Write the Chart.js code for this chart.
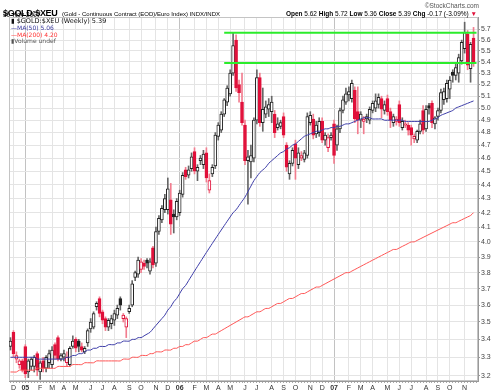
<!DOCTYPE html>
<html>
<head>
<meta charset="utf-8">
<title>$GOLD:$XEU weekly</title>
<script src="https://cdn.jsdelivr.net/npm/chart.js@4.4.0/dist/chart.umd.min.js"></script>
<style>
  body { margin: 0; background: #fff; }
  #wrap { position: relative; width: 499px; height: 392px; overflow: hidden; font-family: 'Liberation Sans', Arial, sans-serif; }
  #wrap canvas { position: absolute; left: 0; top: 0; }
  .t { position: absolute; white-space: nowrap; line-height: 1.1; color: #000; }
  .leg { font-family: 'DejaVu Sans', sans-serif; }
</style>
</head>
<body>
<div id="wrap">
  <canvas id="chart" width="499" height="392"></canvas>
  <div class="t" style="left:3px;top:2px;"><b style="font-size:9px;letter-spacing:-0.3px">$GOLD:$XEU</b> <span style="font-size:6px">(Gold - Continuous Contract (EOD)/Euro Index) INDX/INDX</span></div>
  <div class="t" style="left:3px;top:10.5px;font-size:6.5px">30-Nov-2007</div>
  <div class="t" style="right:20px;top:2px;font-size:6.5px;color:#555">&copy;StockCharts.com</div>
  <div class="t" style="right:22px;top:10px;font-size:6.5px"><b>Open</b> 5.62 <b>High</b> 5.72 <b>Low</b> 5.36 <b>Close</b> 5.39 <b>Chg</b> -0.17 (-3.09%) <span style="color:#e0103a">&#9660;</span></div>
  <div class="t leg" style="left:11px;top:18px;font-size:6.5px;color:#111">&#9646; $GOLD:$XEU (Weekly) 5.39</div>
  <div class="t leg" style="left:11px;top:25px;font-size:6px;color:#3a3aa0">&#8212;MA(50) 5.06</div>
  <div class="t leg" style="left:11px;top:31.5px;font-size:6px;color:#ff3333">&#8212;MA(200) 4.20</div>
  <div class="t leg" style="left:11px;top:38px;font-size:6px;color:#555">&#9646;Volume undef</div>
</div>
<script>
// weekly bars, week ending Friday, first bar 3-Dec-2004
const firstWeek = '2004-12-03';

const opens = [
  3.36,3.44,3.29,3.26,3.28,3.36,3.22,3.25,3.25,3.32,
  3.22,3.28,3.24,3.27,3.26,3.37,3.41,3.29,3.30,3.27,
  3.26,3.36,3.40,3.39,3.36,3.33,3.38,3.46,3.47,3.59,
  3.64,3.56,3.52,3.47,3.49,3.51,3.54,3.64,3.52,3.47,
  3.56,3.60,3.77,3.79,3.82,3.86,3.88,3.81,3.96,3.86,
  4.07,4.15,4.22,4.22,4.29,4.19,4.17,4.20,4.33,4.51,
  4.47,4.52,4.65,4.50,4.58,4.55,4.64,4.36,4.48,4.54,
  4.77,4.82,4.95,5.05,5.12,5.30,5.60,5.20,5.05,4.86,
  4.58,4.57,4.60,4.90,5.26,4.88,4.95,4.99,4.97,4.95,
  4.84,4.85,4.93,4.70,4.48,4.56,4.71,4.55,4.60,4.59,
  4.62,4.88,4.91,4.79,4.80,4.89,4.74,4.68,4.76,4.87,
  4.70,4.83,4.98,5.05,5.11,5.08,5.15,4.97,4.90,4.89,
  4.91,4.90,4.98,5.00,5.03,5.08,4.98,5.08,4.97,4.88,
  4.89,5.03,4.84,4.86,4.86,4.84,4.75,4.74,4.81,4.98,
  4.83,5.02,5.04,4.87,4.93,4.98,5.07,5.08,5.16,5.31,
  5.28,5.30,5.41,5.52,5.66,5.34,5.62
];
const highs = [
  3.41,3.45,3.33,3.29,3.29,3.37,3.29,3.30,3.31,3.33,
  3.28,3.30,3.31,3.34,3.36,3.38,3.42,3.32,3.34,3.33,
  3.36,3.42,3.41,3.40,3.38,3.36,3.46,3.52,3.56,3.62,
  3.65,3.57,3.53,3.52,3.54,3.57,3.60,3.65,3.55,3.53,
  3.60,3.75,3.81,3.90,3.89,3.88,3.89,3.89,3.97,4.10,
  4.18,4.25,4.33,4.45,4.41,4.22,4.30,4.36,4.49,4.53,
  4.54,4.64,4.68,4.55,4.62,4.66,4.68,4.48,4.55,4.80,
  4.88,4.97,5.08,5.19,5.33,5.67,5.65,5.24,5.30,4.90,
  4.66,4.70,4.92,5.33,5.30,5.17,5.06,5.08,5.10,4.98,
  4.92,4.90,4.96,4.72,4.58,4.68,4.74,4.68,4.65,4.66,
  4.96,4.97,4.95,4.89,4.92,4.92,4.80,4.79,4.80,4.90,
  4.86,5.00,5.10,5.17,5.18,5.24,5.18,5.18,4.97,4.93,
  4.95,5.01,5.06,5.12,5.12,5.10,5.06,5.11,5.00,4.95,
  4.93,5.06,4.92,4.90,4.88,4.86,4.79,4.82,4.90,5.02,
  5.02,5.04,5.06,4.93,5.00,5.16,5.17,5.24,5.27,5.33,
  5.38,5.47,5.60,5.77,5.69,5.58,5.72
];
const lows = [
  3.34,3.30,3.27,3.24,3.22,3.19,3.19,3.23,3.22,3.20,
  3.18,3.22,3.22,3.24,3.24,3.29,3.28,3.28,3.28,3.25,
  3.25,3.35,3.33,3.33,3.33,3.32,3.36,3.44,3.46,3.57,
  3.53,3.49,3.45,3.45,3.46,3.48,3.52,3.57,3.50,3.41,
  3.55,3.59,3.75,3.77,3.80,3.82,3.83,3.79,3.83,3.84,
  4.05,4.13,4.20,4.19,4.05,4.06,4.15,4.18,4.31,4.44,
  4.45,4.50,4.48,4.43,4.55,4.52,4.42,4.34,4.46,4.52,
  4.74,4.80,4.93,5.02,5.10,5.28,5.14,5.05,4.86,4.55,
  4.26,4.45,4.57,4.87,4.85,4.81,4.92,4.93,4.88,4.76,
  4.82,4.83,4.76,4.50,4.44,4.54,4.44,4.52,4.58,4.57,
  4.60,4.86,4.75,4.76,4.77,4.72,4.70,4.65,4.74,4.56,
  4.66,4.80,4.96,5.03,5.06,5.05,4.88,4.79,4.84,4.79,
  4.88,4.87,4.96,4.97,5.00,4.92,4.95,4.94,4.84,4.85,
  4.86,4.85,4.82,4.84,4.78,4.70,4.72,4.72,4.79,4.79,
  4.81,4.95,4.84,4.83,4.90,4.96,5.03,5.05,5.08,5.22,
  5.24,5.22,5.38,5.48,5.33,5.22,5.36
];
const closes = [
  3.39,3.32,3.31,3.28,3.23,3.21,3.28,3.29,3.30,3.23,
  3.27,3.24,3.30,3.32,3.34,3.31,3.29,3.31,3.32,3.30,
  3.35,3.39,3.35,3.36,3.34,3.35,3.45,3.50,3.55,3.61,
  3.55,3.51,3.47,3.51,3.52,3.55,3.58,3.60,3.54,3.52,
  3.58,3.73,3.80,3.88,3.87,3.84,3.86,3.87,3.85,4.07,
  4.16,4.23,4.30,4.37,4.12,4.17,4.28,4.34,4.47,4.46,
  4.51,4.61,4.50,4.53,4.60,4.63,4.45,4.43,4.53,4.78,
  4.86,4.95,5.07,5.17,5.30,5.55,5.17,5.13,4.88,4.58,
  4.61,4.62,4.90,5.26,4.88,4.99,5.01,5.03,5.05,4.80,
  4.87,4.88,4.78,4.53,4.56,4.66,4.60,4.64,4.62,4.64,
  4.93,4.94,4.78,4.86,4.89,4.74,4.78,4.76,4.78,4.62,
  4.83,4.98,5.07,5.12,5.14,5.21,4.91,4.90,4.95,4.91,
  4.93,4.99,5.04,5.06,5.09,4.99,5.03,4.97,4.90,4.93,
  4.91,4.88,4.89,4.87,4.82,4.78,4.77,4.81,4.87,4.82,
  4.99,5.00,4.88,4.92,4.98,5.13,5.14,5.21,5.24,5.28,
  5.35,5.44,5.58,5.67,5.37,5.56,5.39
];

// moving averages
const ma50 = [
  3.30,3.30,3.30,3.30,3.30,3.30,3.30,3.30,3.30,3.29,
  3.29,3.29,3.29,3.29,3.29,3.29,3.29,3.29,3.29,3.30,
  3.30,3.31,3.31,3.32,3.32,3.33,3.34,3.34,3.35,3.35,
  3.36,3.36,3.36,3.37,3.37,3.37,3.38,3.38,3.39,3.39,
  3.39,3.40,3.40,3.41,3.41,3.42,3.43,3.44,3.46,3.48,
  3.50,3.52,3.54,3.57,3.59,3.62,3.64,3.67,3.70,3.72,
  3.75,3.78,3.81,3.84,3.87,3.90,3.93,3.96,3.99,4.02,
  4.05,4.08,4.11,4.14,4.17,4.20,4.22,4.25,4.28,4.31,
  4.35,4.39,4.43,4.46,4.49,4.51,4.53,4.56,4.58,4.60,
  4.62,4.64,4.65,4.67,4.68,4.70,4.71,4.73,4.75,4.77,
  4.78,4.79,4.80,4.81,4.81,4.82,4.83,4.83,4.84,4.84,
  4.85,4.85,4.86,4.87,4.87,4.88,4.89,4.90,4.91,4.92,
  4.92,4.92,4.91,4.91,4.91,4.91,4.90,4.90,4.90,4.90,
  4.90,4.90,4.90,4.89,4.89,4.89,4.89,4.89,4.89,4.89,
  4.89,4.89,4.90,4.91,4.92,4.94,4.95,4.96,4.97,4.98,
  5.00,5.01,5.02,5.03,5.04,5.05,5.06
];
const ma200 = [
  3.22,3.22,3.22,3.23,3.23,3.23,3.23,3.23,3.23,3.24,
  3.24,3.24,3.24,3.24,3.24,3.24,3.25,3.25,3.25,3.25,
  3.25,3.26,3.26,3.26,3.26,3.27,3.27,3.27,3.27,3.28,
  3.28,3.28,3.28,3.28,3.28,3.28,3.28,3.28,3.29,3.29,
  3.29,3.30,3.30,3.30,3.31,3.31,3.31,3.32,3.32,3.33,
  3.33,3.33,3.34,3.34,3.34,3.35,3.35,3.36,3.36,3.37,
  3.37,3.38,3.39,3.39,3.40,3.41,3.41,3.42,3.43,3.43,
  3.44,3.45,3.46,3.47,3.48,3.49,3.50,3.51,3.52,3.53,
  3.53,3.54,3.55,3.56,3.56,3.57,3.58,3.58,3.59,3.60,
  3.61,3.61,3.62,3.63,3.64,3.64,3.65,3.66,3.67,3.67,
  3.68,3.69,3.70,3.71,3.71,3.72,3.73,3.74,3.75,3.76,
  3.77,3.78,3.79,3.80,3.80,3.81,3.82,3.83,3.84,3.85,
  3.86,3.87,3.88,3.89,3.90,3.91,3.92,3.93,3.94,3.95,
  3.95,3.96,3.97,3.98,3.99,4.00,4.00,4.01,4.02,4.03,
  4.04,4.05,4.06,4.07,4.08,4.09,4.10,4.11,4.12,4.13,
  4.13,4.14,4.15,4.16,4.17,4.18,4.20
];

// the two green horizontal lines drawn on the chart
const resistance = 5.67;
const support = 5.39;
const channelFrom = '2006-04-21';

const priceTicks = [3.2,3.3,3.4,3.5,3.6,3.7,3.8,3.9,4.0,4.1,4.2,4.3,4.4,4.5,4.6,4.7,4.8,4.9,5.0,5.1,5.2,5.3,5.4,5.5,5.6,5.7];
const monthLetters = ['J','F','M','A','M','J','J','A','S','O','N','D'];

const DAY = 86400000;

// week labels, plus one empty slot on the right like the original
const weeks = [];
for (let i = 0; i <= closes.length; i++) {
    weeks.push(new Date(Date.parse(firstWeek) + i * 7 * DAY).toISOString().slice(0, 10));
}

// label a week when its monday is the first one in a new month
const tickLabels = weeks.map((w, i) => {
    if (i === 0 || i >= closes.length) return '';
    const mon = new Date(Date.parse(w) - 4 * DAY);
    const prev = new Date(Date.parse(weeks[i - 1]) - 4 * DAY);
    if (mon.getUTCMonth() === prev.getUTCMonth()) return '';
    return mon.getUTCMonth() === 0 ? String(mon.getUTCFullYear()).slice(2) : monthLetters[mon.getUTCMonth()];
});
const isYear = tickLabels.map(t => /\d/.test(t));

// candle colours: red when close is below last close, hollow when close is above open
const RED = '#e0103a';
const RED_WICK = '#f27d8f';
const DARK = '#222';
const DARK_WICK = '#666';
const isDown = closes.map((c, i) => c < (i ? closes[i - 1] : opens[i]));
const isHollow = closes.map((c, i) => c > opens[i]);

const bodies = closes.map((c, i) => [Math.min(opens[i], c), Math.max(opens[i], c)]);
const wicks = closes.map((c, i) => [lows[i], highs[i]]);
const resLine = weeks.map(w => (w >= channelFrom ? resistance : null));
const supLine = weeks.map(w => (w >= channelFrom ? support : null));

const plotFrame = {
    id: 'plotFrame',
    beforeDatasetsDraw(chart) {
        const { ctx, chartArea: a } = chart;
        ctx.save();
        ctx.strokeStyle = '#c4c4c4';
        ctx.lineWidth = 1;
        ctx.strokeRect(a.left + 0.5, a.top + 0.5, a.right - a.left - 1, a.bottom - a.top - 1);
        ctx.restore();
    }
};

const ctx = document.getElementById('chart').getContext('2d');
new Chart(ctx, {
    type: 'bar',
    data: {
        labels: weeks,
        datasets: [
            {
                type: 'line',
                label: 'resistance',
                data: resLine,
                borderColor: '#2bec2b',
                borderWidth: 2,
                pointRadius: 0,
                order: 0
            },
            {
                type: 'line',
                label: 'support',
                data: supLine,
                borderColor: '#2bec2b',
                borderWidth: 2,
                pointRadius: 0,
                order: 0
            },
            {
                type: 'line',
                label: 'MA(50)',
                data: ma50,
                borderColor: '#3c3ca8',
                borderWidth: 1,
                pointRadius: 0,
                tension: 0.3,
                order: 1
            },
            {
                type: 'line',
                label: 'MA(200)',
                data: ma200,
                borderColor: '#ff5555',
                borderWidth: 1,
                pointRadius: 0,
                tension: 0.3,
                order: 1
            },
            {
                label: 'body',
                data: bodies,
                backgroundColor: bodies.map((b, i) => (isHollow[i] ? '#fff' : (isDown[i] ? RED : DARK))),
                borderColor: bodies.map((b, i) => (isDown[i] ? RED : DARK)),
                borderWidth: 1,
                borderSkipped: false,
                barThickness: 3,
                minBarLength: 1,
                grouped: false,
                order: 2
            },
            {
                label: 'wick',
                data: wicks,
                backgroundColor: wicks.map((w, i) => (isDown[i] ? RED_WICK : DARK_WICK)),
                barThickness: 1,
                grouped: false,
                order: 3
            }
        ]
    },
    options: {
        responsive: false,
        animation: false,
        devicePixelRatio: 1,
        layout: { padding: { left: 9, top: 17, right: 0, bottom: 0 } },
        plugins: {
            legend: { display: false },
            tooltip: { enabled: false }
        },
        scales: {
            x: {
                type: 'category',
                offset: true,
                afterFit: scale => { scale.height = 11; },
                border: { display: true, color: '#999' },
                grid: {
                    offset: false,
                    color: c => (isYear[c.index] ? '#c2c2c2' : (tickLabels[c.index] ? '#e4e4e4' : 'rgba(0,0,0,0)')),
                    tickColor: '#aaa',
                    tickLength: 2
                },
                ticks: {
                    autoSkip: false,
                    maxRotation: 0,
                    minRotation: 0,
                    padding: 1,
                    color: '#333',
                    font: c => ({ family: 'Liberation Sans', size: 7, weight: isYear[c.index] ? 'bold' : 'normal' }),
                    callback: (v, i) => tickLabels[i]
                }
            },
            y: {
                type: 'logarithmic',
                position: 'right',
                min: 3.172,
                max: 5.82,
                afterBuildTicks: scale => { scale.ticks = priceTicks.map(v => ({ value: v })); },
                afterFit: scale => { scale.width = 21; },
                border: { display: true, color: '#999' },
                grid: { color: '#e4e4e4', tickColor: '#999', tickLength: 2 },
                ticks: {
                    padding: 1,
                    color: '#444',
                    font: { family: 'Liberation Sans', size: 7 },
                    callback: v => Number(v).toFixed(1)
                }
            }
        }
    },
    plugins: [plotFrame]
});
</script>
</body>
</html>
